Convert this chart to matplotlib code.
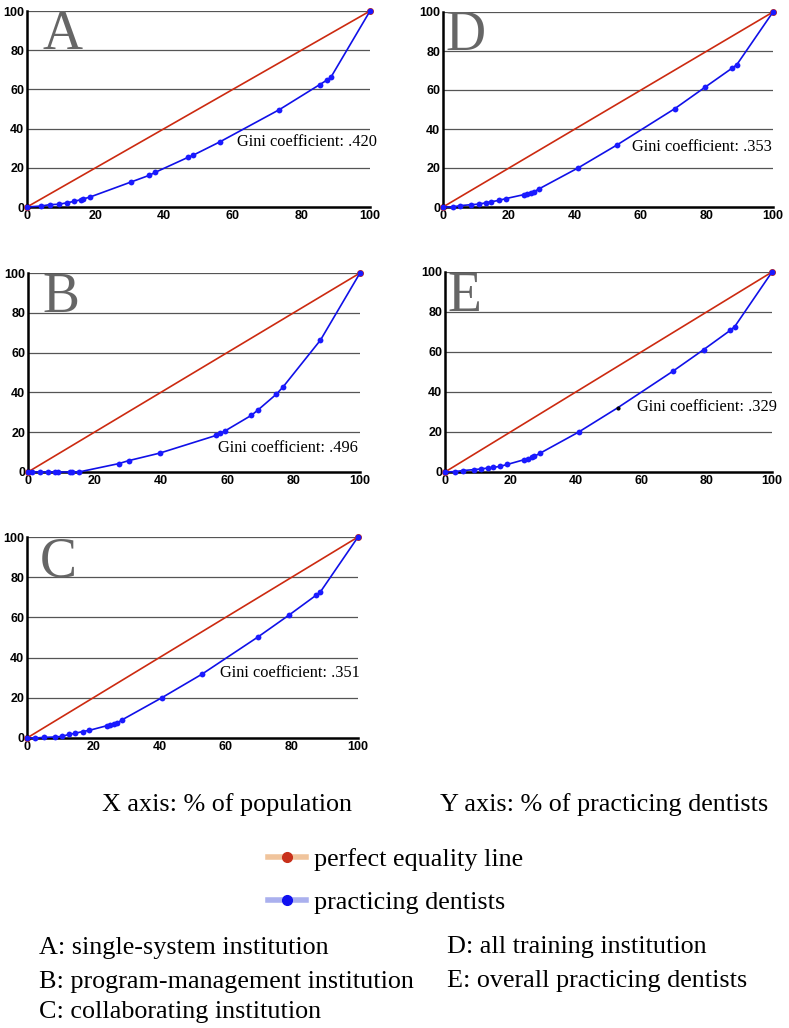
import matplotlib
matplotlib.use("Agg")
import matplotlib.pyplot as plt
from matplotlib.lines import Line2D
import numpy as np

# Lorenz curves (% of population, % of practicing dentists)
a_x = [0, 4.2, 6.6, 9.3, 11.8, 13.8, 15.8, 16.4, 18.4, 30.4, 35.7, 37.4, 46.9, 48.3, 56.3, 73.6, 85.4, 87.4, 88.6, 100]
a_y = [0, 0.5, 1.2, 1.4, 2.2, 2.9, 3.8, 4.1, 5.1, 12.8, 16.2, 17.7, 25.3, 26.3, 33.3, 49.7, 62.5, 64.7, 66.2, 100]

b_x = [0, 1.2, 3.7, 6.1, 8.2, 9.1, 12.6, 13.2, 15.3, 27.3, 30.3, 39.7, 56.7, 57.9, 59.4, 67.3, 69.3, 74.8, 76.8, 88.1, 100]
b_y = [0, 0, 0, 0, 0, 0, 0, 0, 0, 4.2, 5.7, 9.5, 18.4, 19.4, 20.7, 28.5, 31.2, 39.1, 42.7, 66.3, 100]

c_x = [0, 2.5, 5.0, 8.5, 10.6, 12.7, 14.4, 16.8, 18.8, 24.1, 25.1, 26.3, 27.1, 28.8, 40.8, 52.8, 69.9, 79.2, 87.4, 88.6, 100]
c_y = [0, 0, 0.3, 0.5, 0.8, 1.8, 2.3, 3.2, 3.8, 6.1, 6.5, 7.0, 7.3, 9.1, 20.1, 31.7, 50.4, 61.2, 71.1, 72.6, 100]

d_x = [0, 2.9, 5.2, 8.6, 11.0, 13.1, 14.6, 17.0, 19.0, 24.4, 25.4, 26.6, 27.6, 29.0, 41.0, 52.8, 70.3, 79.3, 87.6, 89.0, 100]
d_y = [0, 0, 0.7, 1.2, 1.5, 2.2, 2.7, 3.4, 4.3, 6.3, 6.8, 7.3, 7.8, 9.2, 20.1, 31.9, 50.5, 61.3, 71.2, 72.9, 100]

e_x = [0, 3.1, 5.4, 8.9, 10.9, 13.1, 14.8, 16.8, 19.1, 24.3, 25.3, 26.7, 27.3, 29.2, 40.9, 52.8, 69.7, 79.1, 87.3, 88.6, 100]
e_y = [0, 0.2, 0.7, 1.2, 1.5, 2.0, 2.3, 2.8, 3.8, 6.2, 6.5, 7.7, 7.8, 9.5, 20.0, 32.1, 50.4, 61.2, 70.9, 72.7, 100]
e_black = [15]  # this point is drawn as a small black dot

letters = ["A", "B", "C", "D", "E"]
gini = [".420", ".496", ".351", ".353", ".329"]
series = [(a_x, a_y), (b_x, b_y), (c_x, c_y), (d_x, d_y), (e_x, e_y)]
equality = [0, 100]

captions = ["A: single-system institution", "B: program-management institution",
            "C: collaborating institution", "D: all training institution",
            "E: overall practicing dentists"]

W, H = 789, 1028
# axes boxes in pixels: left, right, top, bottom
boxes = [(27, 370, 11, 207), (28, 360, 273, 472), (27, 358, 537, 738),
         (443, 773, 12, 207), (445, 772, 272, 472)]
gini_pos = [(61.2, 33), (57.2, 12), (58.3, 32.3), (57.3, 30.8), (58.7, 32.5)]
letter_x = [4.4, 4.2, 4.0, 0.6, 0.6]

red = "#cc2a10"
blue = "#1010e8"
serif = "Liberation Serif"

fig = plt.figure(figsize=(W / 100, H / 100), dpi=100)

for i, (xs, ys) in enumerate(series):
    l, r, t, b = boxes[i]
    ax = fig.add_axes([l / W, 1 - b / H, (r - l) / W, (b - t) / H])
    ax.set_xlim(0, 100)
    ax.set_ylim(0, 100)
    for yy in [20, 40, 60, 80, 100]:
        ax.axhline(yy, color="#555555", lw=0.9, zorder=0)
    ax.plot(equality, equality, color=red, lw=1.2, zorder=2,
            marker="o", ms=4, mfc=red, mec=red, clip_on=False)
    xs = np.array(xs)
    ys = np.array(ys)
    ax.plot(xs, ys, color=blue, lw=1.2, zorder=3, clip_on=False)
    keep = np.ones(len(xs), bool)
    if i == 4:
        keep[e_black] = False
        ax.plot(xs[~keep], ys[~keep], "o", color="k", ms=2, zorder=4, clip_on=False)
    ax.plot(xs[keep], ys[keep], "o", color="#1a1aff", ms=4.2, mec="none", zorder=4, clip_on=False)

    ax.text(gini_pos[i][0], gini_pos[i][1], "Gini coefficient: " + gini[i],
            family=serif, fontsize=11.8, ha="left", va="center", zorder=5)
    ax.text(letter_x[i], 80.5, letters[i], family=serif, fontsize=40,
            color="#666666", ha="left", va="baseline", zorder=1)

    for s in ["top", "right"]:
        ax.spines[s].set_visible(False)
    for s in ["left", "bottom"]:
        ax.spines[s].set_linewidth(1.8)
        ax.spines[s].set_color("black")
    ax.set_xticks([0, 20, 40, 60, 80, 100])
    ax.set_yticks([0, 20, 40, 60, 80, 100])
    ax.tick_params(length=0, labelsize=9, pad=2)
    for lab in ax.get_xticklabels() + ax.get_yticklabels():
        lab.set_family("Liberation Sans")
        lab.set_fontweight("bold")

big = 18.8
fig.text(102 / W, 1 - 811 / H, "X axis: % of population", family=serif,
         fontsize=big, ha="left", va="baseline")
fig.text(440 / W, 1 - 811 / H, "Y axis: % of practicing dentists", family=serif,
         fontsize=big, ha="left", va="baseline")

handles = [
    Line2D([], [], color="#f0c49c", lw=4, marker="o", ms=7, mfc="#c8301a", mec="#c8301a"),
    Line2D([], [], color="#aab0ee", lw=4, marker="o", ms=7, mfc="#1010f0", mec="#1010f0"),
]
fig.legend(handles, ["perfect equality line", "practicing dentists"],
           loc="upper left", bbox_to_anchor=(268 / W, 1 - 848 / H), frameon=False,
           prop={"family": serif, "size": big}, handlelength=1.45,
           handletextpad=0.3, labelspacing=0.75, borderpad=0, borderaxespad=0)

cap_pos = [(39, 954), (39, 988), (39, 1018), (447, 953), (447, 987)]
for txt, (cx, cy) in zip(captions, cap_pos):
    fig.text(cx / W, 1 - cy / H, txt, family=serif, fontsize=big,
             ha="left", va="baseline")

fig.savefig("out.png", dpi=100)
